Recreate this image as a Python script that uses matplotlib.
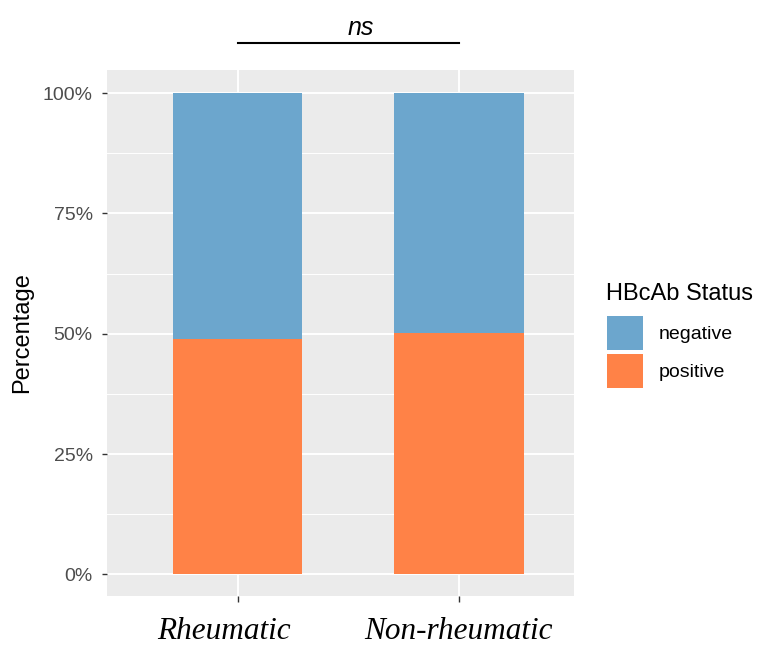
import numpy as np
import matplotlib
matplotlib.use("Agg")
import matplotlib.pyplot as plt
import matplotlib.transforms as mtransforms
from matplotlib.patches import Patch

groups = ["Rheumatic", "Non-rheumatic"]
positive = [49.0, 50.2]
negative = [51.0, 49.8]
y_ticks = [0, 25, 50, 75, 100]
y_labels = ["0%", "25%", "50%", "75%", "100%"]

col_neg = "#6CA6CD"
col_pos = "#FF8247"

plt.rcParams["font.family"] = ["Liberation Sans", "DejaVu Sans"]

fig = plt.figure(figsize=(7.65, 6.58), dpi=100)
ax = fig.add_axes([107 / 765, 1 - 596 / 658, 467 / 765, 526 / 658])
ax.set_facecolor("#EBEBEB")

x = np.arange(1, len(groups) + 1)
ax.bar(x, positive, width=0.585, color=col_pos, zorder=3)
ax.bar(x, negative, width=0.585, bottom=positive, color=col_neg, zorder=3)

ax.set_xlim(0.41, 2.52)
ax.set_ylim(-4.5, 104.8)

ax.set_yticks(y_ticks)
ax.set_yticklabels(y_labels)
ax.set_yticks([12.5, 37.5, 62.5, 87.5], minor=True)
ax.set_xticks(x)
ax.set_xticklabels(groups, fontfamily="Liberation Serif", fontstyle="italic", fontsize=22.5, color="black")

ax.grid(which="major", color="white", linewidth=1.4, zorder=1)
ax.grid(which="minor", axis="y", color="white", linewidth=0.7, zorder=1)
for s in ax.spines.values():
    s.set_visible(False)

ax.tick_params(axis="y", which="major", length=3.8, width=1.0, color="#333333",
               labelsize=14, labelcolor="#4D4D4D", pad=6.5)
ax.tick_params(axis="x", which="major", length=4.5, width=1.0, color="#333333", pad=10.5)
ax.tick_params(which="minor", length=0)

# first label sits a bit left of its tick in the original
lbl = ax.get_xticklabels()[0]
lbl.set_transform(lbl.get_transform() + mtransforms.ScaledTranslation(-14 / 100, 0, fig.dpi_scale_trans))

ax.set_ylabel("Percentage", fontsize=17, color="black")
ax.yaxis.set_label_coords(-0.158, 0.5)

# significance bracket
ax.plot([1, 2], [110.4, 110.4], color="black", linewidth=1.5, clip_on=False)
ax.text(1.555, 112.0, "ns", fontsize=18, fontstyle="italic", ha="center", va="baseline")

# legend
fig.text(606 / 765, 1 - 300 / 658, "HBcAb Status", fontsize=17, ha="left", va="baseline")
handles = [Patch(facecolor=col_neg, edgecolor="none"), Patch(facecolor=col_pos, edgecolor="none")]
leg = fig.legend(handles, ["negative", "positive"],
                 loc="upper left", bbox_to_anchor=(607 / 765, 1 - 316 / 658),
                 frameon=False, fontsize=14,
                 handlelength=1.85, handleheight=2.3, handletextpad=0.8,
                 labelspacing=0.2, borderpad=0, borderaxespad=0)

fig.savefig("out.png", dpi=100)
